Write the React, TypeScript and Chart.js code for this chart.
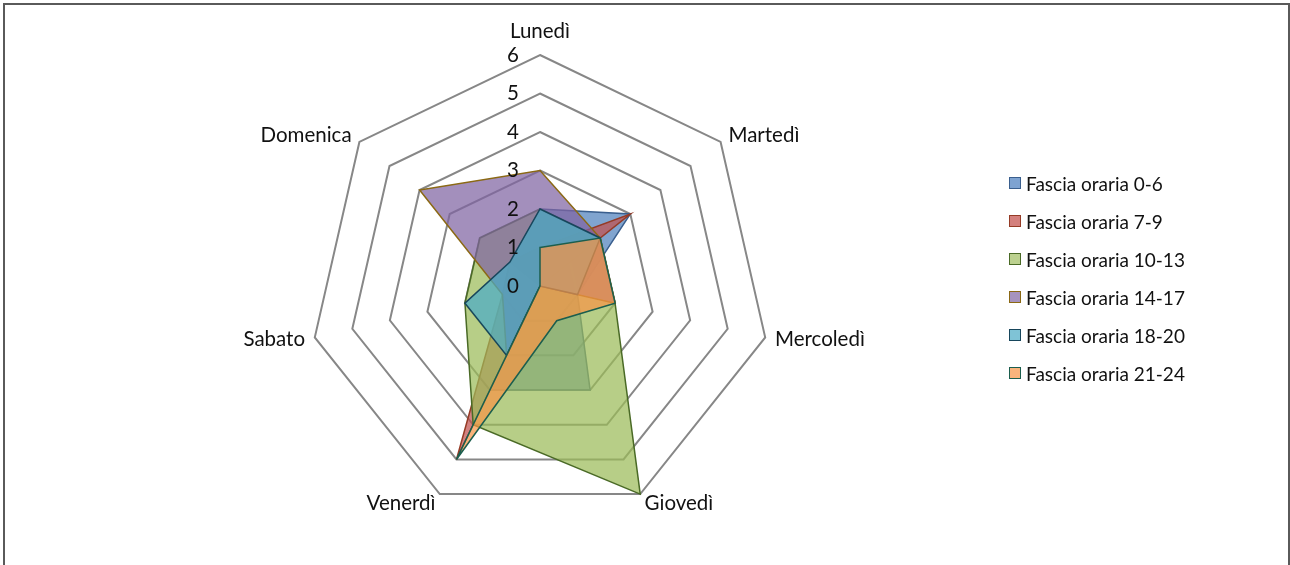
import React, { useEffect, useRef } from "react";
import { Chart, registerables } from "chart.js";

Chart.register(...registerables);

// ---- data ----
const days = ["Lunedì", "Martedì", "Mercoledì", "Giovedì", "Venerdì", "Sabato", "Domenica"];
const seriesNames = [
  "Fascia oraria 0-6",
  "Fascia oraria 7-9",
  "Fascia oraria 10-13",
  "Fascia oraria 14-17",
  "Fascia oraria 18-20",
  "Fascia oraria 21-24",
];
const fascia0_6 = [2, 3, 1, 3, 3, 0, 1];
const fascia7_9 = [1, 3, 0, 0, 5, 1, 1];
const fascia10_13 = [2, 2, 2, 6, 4, 2, 2];
const fascia14_17 = [3, 2, 2, 0, 2, 1, 4];
const fascia18_20 = [2, 2, 1, 0, 2, 2, 1];
const fascia21_24 = [1, 2, 2, 1, 5, 0, 0];
const tickValues = [0, 1, 2, 3, 4, 5, 6];

// ---- styles ----
const FONT = "Lato, 'Liberation Sans', sans-serif";
const FONT_SIZE = 19;
const LABEL_SIZE = 20.5;
const fillColors = [
  "rgba(79,129,189,0.72)",
  "rgba(192,80,77,0.72)",
  "rgba(155,187,89,0.72)",
  "rgba(128,100,162,0.72)",
  "rgba(75,172,198,0.72)",
  "rgba(247,150,70,0.72)",
];
const legendFill = ["#7ea3d1", "#d4807d", "#bcd18f", "#a693be", "#7fc3d6", "#f9b47c"];
const borderColors = ["#3a5f8e", "#953b26", "#4a6a26", "#8b6914", "#17465c", "#1b5e4e"];
const allSeries = [fascia0_6, fascia7_9, fascia10_13, fascia14_17, fascia18_20, fascia21_24];

const labelPlugin = {
  id: "excelLabels",
  afterDatasetsDraw(chart: any) {
    const scale = chart.scales.r;
    const ctx = chart.ctx;
    ctx.save();
    ctx.fillStyle = "#111";
    ctx.font = `${LABEL_SIZE}px ${FONT}`;
    ctx.textAlign = "right";
    ctx.textBaseline = "middle";
    tickValues.forEach((v) => {
      const d = scale.getDistanceFromCenterForValue(v);
      ctx.fillText(String(v), scale.xCenter - 21, scale.yCenter - d);
    });
    days.forEach((lab, i) => {
      const p = scale.getPointPosition(i, scale.drawingArea + 10);
      const dx = p.x - scale.xCenter;
      ctx.textAlign = Math.abs(dx) < 2 ? "center" : dx > 0 ? "left" : "right";
      let y = p.y;
      if (Math.abs(dx) < 2) y -= 14;
      ctx.fillText(lab, p.x, y);
    });
    ctx.restore();
  },
};

export default function App() {
  const ref = useRef<HTMLCanvasElement | null>(null);
  useEffect(() => {
    if (!ref.current) return;
    const chart = new Chart(ref.current, {
      type: "radar",
      data: {
        labels: days,
        datasets: allSeries.map((d, i) => ({
          label: seriesNames[i],
          data: d,
          backgroundColor: fillColors[i],
          borderColor: borderColors[i],
          borderWidth: 1.5,
          pointRadius: 0,
          fill: true,
          order: allSeries.length - i,
        })),
      },
      options: {
        responsive: false,
        animation: false,
        layout: { padding: { left: 0, right: 210, top: 55, bottom: 48 } },
        plugins: { legend: { display: false }, tooltip: { enabled: false } },
        elements: { line: { tension: 0 } },
        scales: {
          r: {
            min: 0,
            max: 6,
            ticks: { stepSize: 1, display: false },
            pointLabels: { display: false },
            angleLines: { display: false },
            grid: { color: "#878787", lineWidth: 2 },
          },
        },
      },
      plugins: [labelPlugin],
    });
    return () => chart.destroy();
  }, []);

  return (
    <div style={{ position: "fixed", left: 0, top: 0, width: 1290, height: 565, background: "#fff", overflow: "hidden" }}>
      <canvas ref={ref} width={1290} height={565} style={{ position: "absolute", left: 0, top: 0 }} />
      <div
        style={{
          position: "absolute",
          left: 3,
          top: 3,
          width: 1287,
          height: 700,
          border: "2px solid #5a5a5a",
          boxSizing: "border-box",
          pointerEvents: "none",
        }}
      />
      {seriesNames.map((n, i) => (
        <div
          key={n}
          style={{
            position: "absolute",
            left: 1009,
            top: 183 + i * 38 - 12,
            height: 24,
            display: "flex",
            alignItems: "center",
            fontFamily: FONT,
            fontSize: FONT_SIZE,
            color: "#111",
            whiteSpace: "nowrap",
          }}
        >
          <span
            style={{
              display: "inline-block",
              width: 12,
              height: 12,
              background: legendFill[i],
              border: `1.5px solid ${borderColors[i]}`,
              boxSizing: "border-box",
              marginRight: 5,
            }}
          />
          <span>{n}</span>
        </div>
      ))}
    </div>
  );
}
